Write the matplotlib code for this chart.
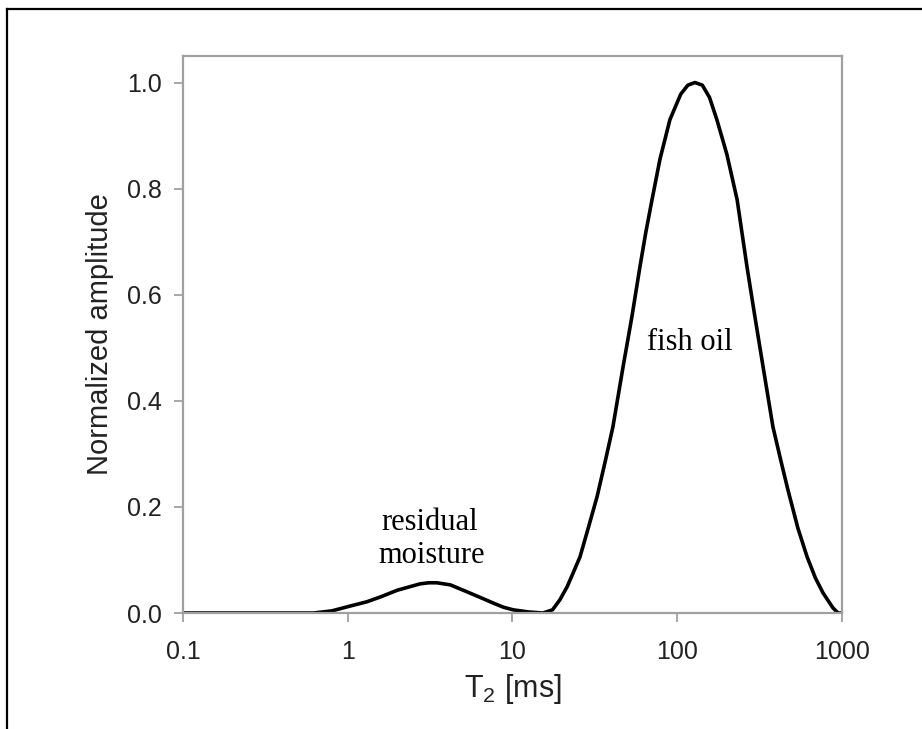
import matplotlib
matplotlib.use("Agg")
import matplotlib.pyplot as plt
from matplotlib.lines import Line2D

plt.rcParams["font.family"] = ["Liberation Sans", "DejaVu Sans"]
plt.rcParams["mathtext.fontset"] = "custom"
plt.rcParams["mathtext.rm"] = "Liberation Sans"
plt.rcParams["mathtext.it"] = "Liberation Sans"

# T2 distribution
t2_ms = [0.1, 0.3, 0.5, 0.62, 0.8, 1.03, 1.3, 1.57, 2.0, 2.75, 3.1, 3.48,
         4.2, 5.29, 6.3, 7.61, 8.8, 10.1, 12.5, 15.3, 17.5, 19.4, 21.5,
         23.3, 25.7, 29.0, 32.6, 36.5, 40.7, 46.9, 53.1, 59.4, 64.5, 70.3,
         78.5, 90.3, 105, 116, 128, 142, 157, 174, 200, 231, 265, 296, 332,
         381, 425, 470, 540, 614, 690, 767, 880, 946, 1000]
amplitude = [0.0, 0.0, 0.0, 0.0, 0.004, 0.013, 0.021, 0.030, 0.043, 0.055,
             0.057, 0.057, 0.053, 0.040, 0.030, 0.019, 0.011, 0.006, 0.002,
             0.0, 0.006, 0.025, 0.050, 0.075, 0.106, 0.163, 0.219, 0.285,
             0.351, 0.464, 0.559, 0.653, 0.718, 0.779, 0.855, 0.930, 0.978,
             0.995, 1.0, 0.995, 0.972, 0.930, 0.865, 0.779, 0.653, 0.559,
             0.464, 0.351, 0.288, 0.232, 0.160, 0.106, 0.066, 0.038, 0.010,
             0.0, 0.0]

x_ticks = [0.1, 1, 10, 100, 1000]
x_tick_labels = ["0.1", "1", "10", "100", "1000"]
y_ticks = [0.0, 0.2, 0.4, 0.6, 0.8, 1.0]

fig = plt.figure(figsize=(9.22, 7.29), dpi=100)
ax = fig.add_axes([0.1985, 0.1591, 0.7147, 0.7641])

ax.plot(t2_ms, amplitude, color="black", lw=2.6, solid_joinstyle="round")

ax.set_xscale("log")
ax.set_xlim(0.1, 1000)
ax.set_ylim(0, 1.05)
ax.set_xticks(x_ticks)
ax.set_xticklabels(x_tick_labels)
ax.minorticks_off()
ax.set_yticks(y_ticks)
ax.set_yticklabels([f"{v:.1f}" for v in y_ticks])

gray = "#a0a0a0"
for s in ax.spines.values():
    s.set_color(gray)
    s.set_linewidth(1.6)
ax.tick_params(axis="both", direction="out", length=6.5, width=1.3,
               color=gray, labelsize=18, labelcolor="#222222")
ax.tick_params(axis="x", pad=13)
ax.tick_params(axis="y", pad=9)

ax.set_xlabel(r"T$_\mathrm{2}$ [ms]", fontsize=22, labelpad=6, color="#222222")
ax.set_ylabel("Normalized amplitude", fontsize=21, labelpad=9, color="#222222")

ax.text(3.15, 0.157, "residual", family="Liberation Serif", fontsize=22,
        ha="center", va="baseline")
ax.text(3.25, 0.094, "moisture", family="Liberation Serif", fontsize=22,
        ha="center", va="baseline")
ax.text(120, 0.496, "fish oil", family="Liberation Serif", fontsize=22,
        ha="center", va="baseline")

# outer frame (left and top edges visible)
fig.add_artist(Line2D([7 / 922, 7 / 922], [0, 1 - 9 / 729],
                      transform=fig.transFigure, color="black", lw=1.6))
fig.add_artist(Line2D([7 / 922, 1], [1 - 9 / 729, 1 - 9 / 729],
                      transform=fig.transFigure, color="black", lw=1.6))

fig.savefig("out.png", dpi=100)
